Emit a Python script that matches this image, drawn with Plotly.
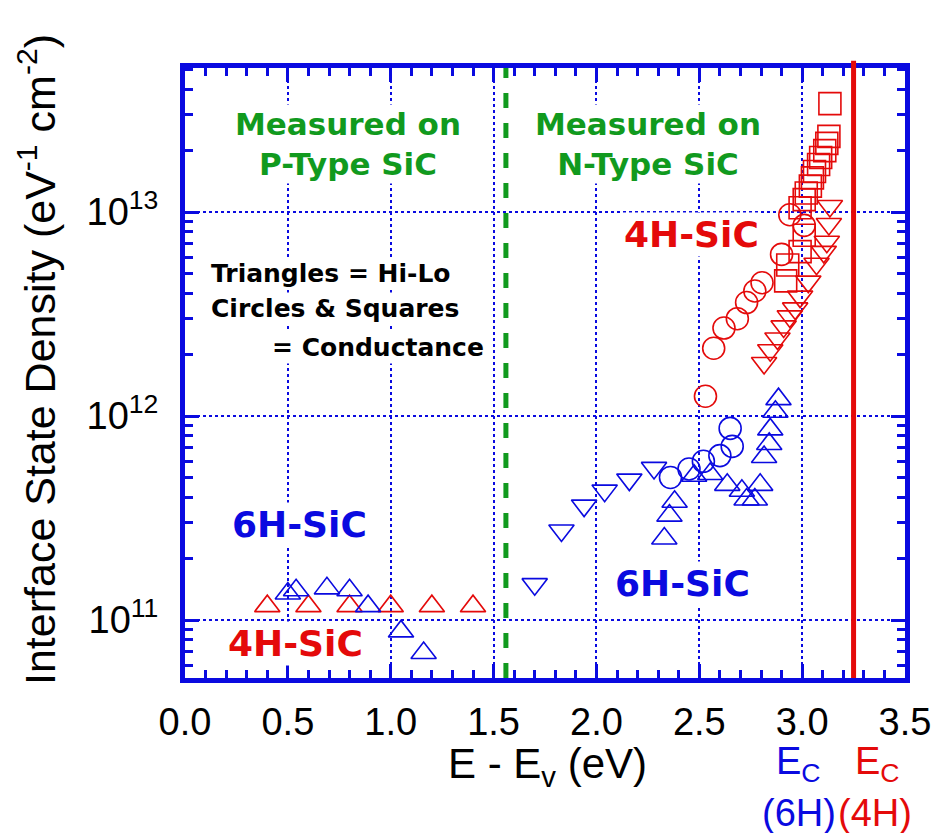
import numpy as np
import plotly.graph_objects as go

BLUE = "#0a0ae0"
RED = "#e40a0a"
GREEN = "#119a1e"

# ---- data: energy above valence band (eV) and interface state density (eV^-1 cm^-2)
# p-type, Hi-Lo (triangles)
e_4h_p_hilo = [0.40, 0.60, 0.80, 1.00, 1.20, 1.40]
d_4h_p_hilo = [1.17e11, 1.17e11, 1.17e11, 1.17e11, 1.17e11, 1.17e11]

e_6h_p_hilo = [0.50, 0.54, 0.69, 0.80, 0.89, 1.05, 1.16]
d_6h_p_hilo = [1.35e11, 1.40e11, 1.43e11, 1.40e11, 1.17e11, 8.8e10, 6.9e10]

# n-type 6H, Hi-Lo (two sample sets)
e_6h_n_hilo_a = [1.70, 1.83, 1.94, 2.04, 2.16, 2.28]
d_6h_n_hilo_a = [1.50e11, 2.75e11, 3.64e11, 4.31e11, 4.88e11, 5.57e11]

e_6h_n_hilo_b = [2.33, 2.355, 2.38, 2.475, 2.553, 2.636, 2.707, 2.73, 2.77,
                 2.796, 2.815, 2.84, 2.845, 2.87, 2.885]
d_6h_n_hilo_b = [2.51e11, 3.25e11, 3.8e11, 5.1e11, 5.2e11, 4.6e11, 4.3e11, 3.9e11,
                 3.9e11, 4.6e11, 6.3e11, 7.3e11, 8.6e11, 1.05e12, 1.21e12]

# n-type 6H, conductance (circles)
e_6h_n_cond = [2.36, 2.45, 2.52, 2.60, 2.66, 2.65]
d_6h_n_cond = [5.0e11, 5.5e11, 6.0e11, 6.4e11, 7.1e11, 8.7e11]

# n-type 4H, conductance (circles)
e_4h_n_circ = [2.53, 2.57, 2.62, 2.685, 2.73, 2.77, 2.805, 2.90, 2.94, 3.01]
d_4h_n_circ = [1.25e12, 2.15e12, 2.7e12, 3.0e12, 3.6e12, 4.1e12, 4.5e12,
               6.2e12, 9.7e12, 8.6e12]

# n-type 4H, conductance (squares)
e_4h_n_sq = [2.92, 2.93, 2.99, 3.01, 2.99, 3.01, 3.02, 3.04, 3.05, 3.06, 3.08,
             3.09, 3.11, 3.12, 3.13, 3.135]
d_4h_n_sq = [4.6e12, 5.5e12, 6.4e12, 7.7e12, 1.05e13, 1.15e13, 1.24e13, 1.34e13,
             1.47e13, 1.58e13, 1.71e13, 1.85e13, 2.0e13, 2.17e13, 2.35e13, 3.4e13]

# n-type 4H, Hi-Lo (inverted triangles)
e_4h_n_hilo = [2.815, 2.845, 2.88, 2.91, 2.94, 2.966, 2.99, 3.03, 3.07, 3.105,
               3.12, 3.13, 3.135]
d_4h_n_hilo = [1.82e12, 2.10e12, 2.40e12, 2.75e12, 3.08e12, 3.37e12, 3.85e12,
               4.56e12, 5.58e12, 6.38e12, 7.15e12, 8.74e12, 1.07e13]

# band edges and p/n boundary
ec_6h = 3.00
ec_6h_top = 2.0e12
ec_4h = 3.25
pn_boundary = 1.56

x_ticks = [0.0, 0.5, 1.0, 1.5, 2.0, 2.5, 3.0, 3.5]
x_tick_text = ["0.0", "0.5", "1.0", "1.5", "2.0", "2.5", "3.0", "3.5"]
y_ticks = [1e11, 1e12, 1e13]
y_tick_text = ["10<sup>11</sup>", "10<sup>12</sup>", "10<sup>13</sup>"]

MS = 22
fig = go.Figure()


def add(x, y, symbol, color):
    fig.add_trace(go.Scatter(
        x=x, y=y, mode="markers", showlegend=False,
        marker=dict(symbol=symbol, size=MS, color=color,
                    line=dict(color=color, width=1.6)),
    ))


add(e_4h_p_hilo, d_4h_p_hilo, "triangle-up-open", RED)
add(e_6h_p_hilo, d_6h_p_hilo, "triangle-up-open", BLUE)
add(e_6h_n_hilo_a, d_6h_n_hilo_a, "triangle-down-open", BLUE)
add(e_6h_n_hilo_b, d_6h_n_hilo_b, "triangle-up-open", BLUE)
add(e_6h_n_cond, d_6h_n_cond, "circle-open", BLUE)
add(e_4h_n_circ, d_4h_n_circ, "circle-open", RED)
add(e_4h_n_sq, d_4h_n_sq, "square-open", RED)
add(e_4h_n_hilo, d_4h_n_hilo, "triangle-down-open", RED)

# vertical reference lines
fig.add_shape(type="line", xref="x", yref="paper", x0=pn_boundary, x1=pn_boundary,
              y0=0, y1=1, line=dict(color=GREEN, width=5, dash="dash"))
fig.add_shape(type="line", xref="x", yref="y", x0=ec_6h, x1=ec_6h,
              y0=10.70, y1=np.log10(ec_6h_top), line=dict(color=BLUE, width=5))
fig.add_shape(type="line", xref="x", yref="paper", x0=ec_4h, x1=ec_4h,
              y0=0, y1=1.012, line=dict(color=RED, width=5))

BOLD = "DejaVu Sans"
SANS = "Liberation Sans, Arial, Helvetica, sans-serif"


def label(text, x, y, color, size, xanchor="center", align="center"):
    fig.add_annotation(x=x, y=y, xref="x", yref="y", text=text, showarrow=False,
                       xanchor=xanchor, yanchor="middle", align=align,
                       bgcolor="white", borderpad=1,
                       font=dict(family=BOLD, size=size, color=color, weight="bold"))


label("Measured on<br>P-Type SiC", 0.79, 13.333, GREEN, 31)
label("Measured on<br>N-Type SiC", 2.25, 13.333, GREEN, 31)
label("4H-SiC", 2.46, 12.892, RED, 36)
label("6H-SiC", 2.42, 11.18, BLUE, 36)
label("6H-SiC", 0.557, 11.466, BLUE, 36)
label("4H-SiC", 0.535, 10.887, RED, 36)
label("Triangles = Hi-Lo", 0.119, 12.701, "black", 25, xanchor="left")
label("Circles &amp; Squares", 0.119, 12.529, "black", 25, xanchor="left")
label("= Conductance", 1.463, 12.338, "black", 25, xanchor="right")

# axis titles and band-edge captions (pixel-based paper coordinates)
L, R, T, B = 185, 33, 68, 155
W, H = 943, 833
PW, PH = W - L - R, H - T - B


def px(xp, yp):
    return (xp - L) / PW, (H - B - yp) / PH


def caption(text, xp, yp, color, size, angle=0):
    x, y = px(xp, yp)
    fig.add_annotation(x=x, y=y, xref="paper", yref="paper", text=text,
                       showarrow=False, textangle=angle,
                       xanchor="center", yanchor="middle",
                       font=dict(family=SANS, size=size, color=color))


caption("E - E<sub>v</sub> (eV)", 550, 766, "black", 42)
caption("Interface State Density (eV<sup>-1</sup> cm<sup>-2</sup>)", 36, 360, "black", 43, angle=-90)
caption("E<sub>C</sub>", 803, 764, BLUE, 38)
caption("(6H)", 803, 813, BLUE, 38)
caption("E<sub>C</sub>", 882, 764, RED, 38)
caption("(4H)", 880, 813, RED, 38)

axis_common = dict(
    showline=True, linecolor=BLUE, linewidth=5, mirror="allticks",
    ticks="inside", tickcolor=BLUE, tickwidth=3, ticklen=14,
    showgrid=True, gridcolor=BLUE, gridwidth=1.5, griddash="dot",
    zeroline=False, tickfont=dict(family=SANS, size=38, color="black"),
)

fig.update_xaxes(
    range=[0, 3.5], tickmode="array", tickvals=x_ticks, ticktext=x_tick_text,
    minor=dict(dtick=0.1, ticks="inside", ticklen=8, tickwidth=3, tickcolor=BLUE,
               showgrid=False),
    ticklabelstandoff=6,
    **axis_common,
)

y_minor = [m * 10.0 ** e for e in (10, 11, 12, 13) for m in range(2, 10)]
fig.update_yaxes(
    type="log", range=[10.716, 13.706], tickmode="array", tickvals=y_ticks,
    ticktext=y_tick_text,
    minor=dict(tickmode="array", tickvals=y_minor, ticks="inside", ticklen=8,
               tickwidth=3, tickcolor=BLUE, showgrid=False),
    ticklabelstandoff=14,
    **axis_common,
)

fig.update_layout(
    width=W, height=H, margin=dict(l=L, r=R, t=T, b=B),
    paper_bgcolor="white", plot_bgcolor="white", showlegend=False,
)

fig.write_html("out.html")
